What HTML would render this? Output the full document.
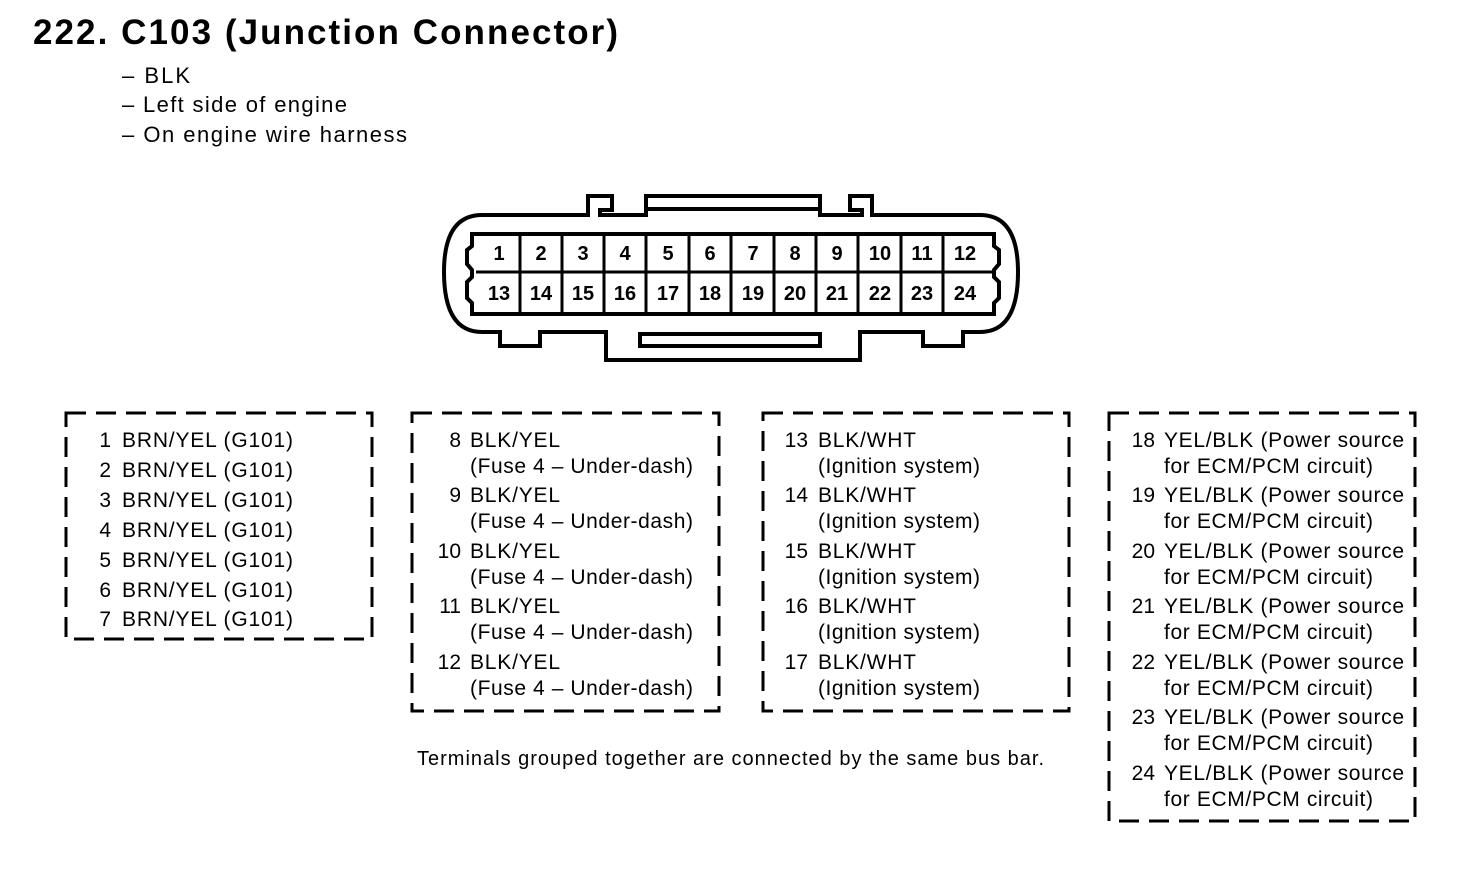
<!DOCTYPE html>
<html><head><meta charset="utf-8"><style>
html,body{margin:0;padding:0;background:#fff;}
svg{display:block}
text{font-family:"Liberation Sans",Arial,sans-serif;fill:#000}
</style></head><body>
<svg width="1472" height="874" viewBox="0 0 1472 874" xmlns="http://www.w3.org/2000/svg">
<text x="33" y="44" font-size="35" font-weight="bold" textLength="585" lengthAdjust="spacing">222.  C103 (Junction Connector)</text>
<g font-size="22">
<text x="122" y="83" textLength="68" lengthAdjust="spacing">– BLK</text>
<text x="122" y="112" textLength="225" lengthAdjust="spacing">– Left side of engine</text>
<text x="122" y="142" textLength="285" lengthAdjust="spacing">– On engine wire harness</text>
</g>
<!-- connector -->
<g fill="none" stroke="#000" stroke-width="4">
<path d="M500,215 H588 V196 H612 V210 H600 V215 H646 V196 H820 V215 H862 V210 H850 V196 H872 V215 H980 Q1018,215 1018,272 Q1018,332 980,332 H963 V346 H923 V332 H860 V360 H606 V332 H540 V346 H500 V332 H482 Q444,332 444,272 Q444,215 482,215 Z"/>
<path d="M648,209 H818"/>
<rect x="640" y="334" width="180" height="12"/>
<path d="M472,234 H994 V246 L999,250 V264 L994,270 V277 L999,282 V298 L994,303 V314 H472 V303 L467,298 V282 L472,277 V270 L467,264 V250 L472,246 Z" stroke-width="4"/>
</g>
<g fill="none" stroke="#000" stroke-width="3">
<path d="M476,272 H992"/>
<path d="M520,236 V312 M562,236 V312 M604,236 V312 M646,236 V312 M689,236 V312 M731,236 V312 M774,236 V312 M816,236 V312 M858,236 V312 M901,236 V312 M943,236 V312"/>
</g>
<g font-size="20" font-weight="bold" text-anchor="middle">
<text x="499" y="260">1</text><text x="541" y="260">2</text><text x="583" y="260">3</text><text x="625" y="260">4</text><text x="668" y="260">5</text><text x="710" y="260">6</text><text x="753" y="260">7</text><text x="795" y="260">8</text><text x="837" y="260">9</text><text x="880" y="260">10</text><text x="922" y="260">11</text><text x="965" y="260">12</text>
<text x="499" y="300">13</text><text x="541" y="300">14</text><text x="583" y="300">15</text><text x="625" y="300">16</text><text x="668" y="300">17</text><text x="710" y="300">18</text><text x="753" y="300">19</text><text x="795" y="300">20</text><text x="837" y="300">21</text><text x="880" y="300">22</text><text x="922" y="300">23</text><text x="965" y="300">24</text>
</g>
<!-- boxes -->
<g fill="none" stroke="#000" stroke-width="3" stroke-dasharray="20 10">
<rect x="66" y="413" width="306" height="226"/>
<rect x="412" y="413" width="307" height="298"/>
<rect x="763" y="413" width="306" height="298"/>
<rect x="1109" y="413" width="306" height="408"/>
</g>
<g font-size="21">
<g text-anchor="end">
<text x="111" y="447">1</text><text x="111" y="477">2</text><text x="111" y="507">3</text><text x="111" y="537">4</text><text x="111" y="567">5</text><text x="111" y="597">6</text><text x="111" y="626">7</text>
</g>
<g textLength="171">
<text x="122" y="447" textLength="171" lengthAdjust="spacing">BRN/YEL (G101)</text><text x="122" y="477" textLength="171" lengthAdjust="spacing">BRN/YEL (G101)</text><text x="122" y="507" textLength="171" lengthAdjust="spacing">BRN/YEL (G101)</text><text x="122" y="537" textLength="171" lengthAdjust="spacing">BRN/YEL (G101)</text><text x="122" y="567" textLength="171" lengthAdjust="spacing">BRN/YEL (G101)</text><text x="122" y="597" textLength="171" lengthAdjust="spacing">BRN/YEL (G101)</text><text x="122" y="626" textLength="171" lengthAdjust="spacing">BRN/YEL (G101)</text>
</g>
<g text-anchor="end">
<text x="461" y="447">8</text><text x="461" y="502">9</text><text x="461" y="558">10</text><text x="461" y="613">11</text><text x="461" y="669">12</text>
<text x="808" y="447">13</text><text x="808" y="502">14</text><text x="808" y="558">15</text><text x="808" y="613">16</text><text x="808" y="669">17</text>
<text x="1155" y="447">18</text><text x="1155" y="502">19</text><text x="1155" y="558">20</text><text x="1155" y="613">21</text><text x="1155" y="669">22</text><text x="1155" y="724">23</text><text x="1155" y="780">24</text>
</g>
<text x="470" y="447" textLength="90" lengthAdjust="spacing">BLK/YEL</text><text x="470" y="473" textLength="223" lengthAdjust="spacing">(Fuse 4 – Under-dash)</text>
<text x="470" y="502" textLength="90" lengthAdjust="spacing">BLK/YEL</text><text x="470" y="528" textLength="223" lengthAdjust="spacing">(Fuse 4 – Under-dash)</text>
<text x="470" y="558" textLength="90" lengthAdjust="spacing">BLK/YEL</text><text x="470" y="584" textLength="223" lengthAdjust="spacing">(Fuse 4 – Under-dash)</text>
<text x="470" y="613" textLength="90" lengthAdjust="spacing">BLK/YEL</text><text x="470" y="639" textLength="223" lengthAdjust="spacing">(Fuse 4 – Under-dash)</text>
<text x="470" y="669" textLength="90" lengthAdjust="spacing">BLK/YEL</text><text x="470" y="695" textLength="223" lengthAdjust="spacing">(Fuse 4 – Under-dash)</text>

<text x="818" y="447" textLength="98" lengthAdjust="spacing">BLK/WHT</text><text x="818" y="473" textLength="162" lengthAdjust="spacing">(Ignition system)</text>
<text x="818" y="502" textLength="98" lengthAdjust="spacing">BLK/WHT</text><text x="818" y="528" textLength="162" lengthAdjust="spacing">(Ignition system)</text>
<text x="818" y="558" textLength="98" lengthAdjust="spacing">BLK/WHT</text><text x="818" y="584" textLength="162" lengthAdjust="spacing">(Ignition system)</text>
<text x="818" y="613" textLength="98" lengthAdjust="spacing">BLK/WHT</text><text x="818" y="639" textLength="162" lengthAdjust="spacing">(Ignition system)</text>
<text x="818" y="669" textLength="98" lengthAdjust="spacing">BLK/WHT</text><text x="818" y="695" textLength="162" lengthAdjust="spacing">(Ignition system)</text>

<text x="1164" y="447" textLength="240" lengthAdjust="spacing">YEL/BLK (Power source</text><text x="1164" y="473" textLength="209" lengthAdjust="spacing">for ECM/PCM circuit)</text>
<text x="1164" y="502" textLength="240" lengthAdjust="spacing">YEL/BLK (Power source</text><text x="1164" y="528" textLength="209" lengthAdjust="spacing">for ECM/PCM circuit)</text>
<text x="1164" y="558" textLength="240" lengthAdjust="spacing">YEL/BLK (Power source</text><text x="1164" y="584" textLength="209" lengthAdjust="spacing">for ECM/PCM circuit)</text>
<text x="1164" y="613" textLength="240" lengthAdjust="spacing">YEL/BLK (Power source</text><text x="1164" y="639" textLength="209" lengthAdjust="spacing">for ECM/PCM circuit)</text>
<text x="1164" y="669" textLength="240" lengthAdjust="spacing">YEL/BLK (Power source</text><text x="1164" y="695" textLength="209" lengthAdjust="spacing">for ECM/PCM circuit)</text>
<text x="1164" y="724" textLength="240" lengthAdjust="spacing">YEL/BLK (Power source</text><text x="1164" y="750" textLength="209" lengthAdjust="spacing">for ECM/PCM circuit)</text>
<text x="1164" y="780" textLength="240" lengthAdjust="spacing">YEL/BLK (Power source</text><text x="1164" y="806" textLength="209" lengthAdjust="spacing">for ECM/PCM circuit)</text>

<text x="417" y="765" font-size="20" textLength="627" lengthAdjust="spacing">Terminals grouped together are connected by the same bus bar.</text>
</g>
</svg>
</body></html>
